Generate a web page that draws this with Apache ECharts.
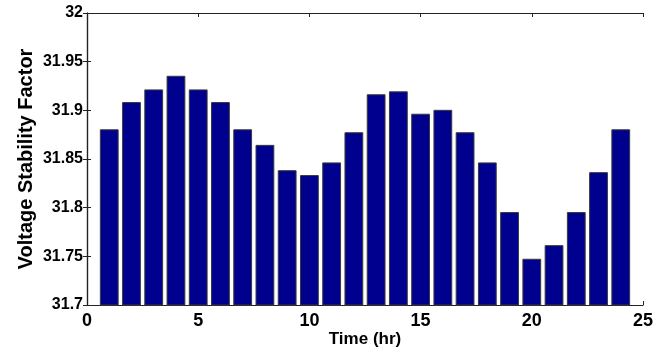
<!DOCTYPE html>
<html>
<head>
<meta charset="utf-8">
<script src="https://cdn.jsdelivr.net/npm/echarts@6/dist/echarts.min.js"></script>
<style>html,body{margin:0;padding:0;background:#fff;}#c{width:665px;height:348px;}</style>
</head>
<body>
<div id="c"></div>
<script>
var hours = [1,2,3,4,5,6,7,8,9,10,11,12,13,14,15,16,17,18,19,20,21,22,23,24];
var vsf = [31.880,31.908,31.921,31.935,31.921,31.908,31.880,31.864,31.838,31.833,31.846,31.877,
           31.916,31.919,31.896,31.900,31.877,31.846,31.795,31.747,31.761,31.795,31.836,31.880];
var xTicks = [0,5,10,15,20,25];
var yTicks = [31.7,31.75,31.8,31.85,31.9,31.95,32];
var xLabel = 'Time (hr)';
var yLabel = 'Voltage Stability Factor';

var chart = echarts.init(document.getElementById('c'));
var font = '"Liberation Sans", Arial, sans-serif';
var axisLine = {show:true, lineStyle:{color:'#222', width:1.2}};
var data = hours.map(function(h,i){return [h, vsf[i]];});
var yMin = 31.7;
chart.setOption({
  animation:false,
  backgroundColor:'#fff',
  grid:{left:87, right:22, top:13, bottom:43, outerBoundsMode:'none', containLabel:false},
  xAxis:[{
    type:'value', min:0, max:25, interval:5,
    axisLine:axisLine, axisTick:{show:true, inside:true, length:4, lineStyle:{color:'#222'}},
    splitLine:{show:false},
    axisLabel:{color:'#000', fontFamily:font, fontWeight:'bold', fontSize:18, margin:7},
    name:xLabel, nameLocation:'middle', nameGap:26, nameMoveOverlap:false,
    nameTextStyle:{color:'#000', fontFamily:font, fontWeight:'bold', fontSize:17}
  },{
    type:'value', min:0, max:25, interval:5, position:'top',
    axisLine:axisLine, axisTick:{show:true, inside:true, length:4, lineStyle:{color:'#222'}},
    axisLabel:{show:false}, splitLine:{show:false}
  }],
  yAxis:[{
    type:'value', min:31.7, max:32, interval:0.05,
    axisLine:axisLine, axisTick:{show:true, inside:true, length:4, lineStyle:{color:'#222'}},
    splitLine:{show:false},
    axisLabel:{color:'#000', fontFamily:font, fontWeight:'bold', fontSize:16, margin:4,
      formatter:function(v){return String(parseFloat(v.toFixed(2)));}},
    name:yLabel, nameLocation:'middle', nameGap:51, nameRotate:90, nameMoveOverlap:false,
    nameTextStyle:{color:'#000', fontFamily:font, fontWeight:'bold', fontSize:20}
  },{
    type:'value', min:31.7, max:32, interval:0.05, position:'right',
    axisLine:axisLine, axisTick:{show:true, inside:true, length:4, lineStyle:{color:'#222'}},
    axisLabel:{show:false}, splitLine:{show:false}
  }],
  series:[{
    type:'custom',
    xAxisIndex:0, yAxisIndex:0,
    data:data,
    encode:{x:0, y:1},
    renderItem:function(params, api){
      var x = api.value(0), y = api.value(1);
      var top = api.coord([x, y]);
      var base = api.coord([x, yMin]);
      var w = api.size([0.8, 0])[0];
      return {
        type:'rect',
        shape:{x:top[0]-w/2, y:top[1], width:w, height:base[1]-top[1]},
        style:{fill:'#00008F', stroke:'#3a3a3a', lineWidth:1}
      };
    }
  }]
});
</script>
</body>
</html>
